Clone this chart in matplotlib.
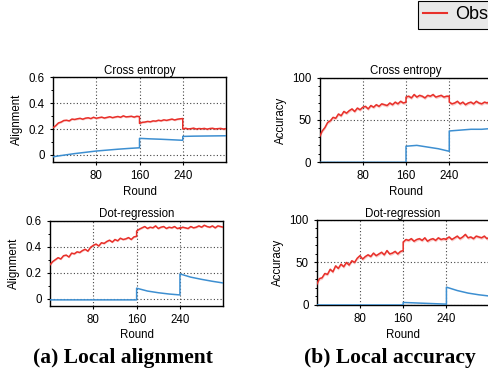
import numpy as np
import matplotlib
matplotlib.use("Agg")
import matplotlib.pyplot as plt
from matplotlib.lines import Line2D
from matplotlib.ticker import MultipleLocator, FuncFormatter

plt.rcParams['font.family'] = ['Liberation Sans', 'DejaVu Sans']

# x positions of the noisy (observed) curves, with the step at 160 and 240
seg_a = np.arange(0, 161, 5)
seg_b = np.arange(160, 241, 5)
seg_c = np.arange(240, 321, 5)
rounds = np.concatenate([seg_a, seg_b, seg_c])

# x positions of the smooth (expected) curves
blue_rounds = [0, 10, 20, 40, 60, 80, 100, 120, 140, 160,
               160, 180, 200, 220, 240,
               240, 260, 280, 300, 320]

# alignment, cross entropy
align_ce_red = [0.210, 0.226, 0.247, 0.254, 0.266, 0.268, 0.263, 0.277, 0.274, 0.279, 0.283,
                0.276, 0.284, 0.287, 0.281, 0.291, 0.283, 0.288, 0.292, 0.285, 0.290, 0.295,
                0.288, 0.293, 0.297, 0.291, 0.302, 0.294, 0.296, 0.299, 0.292, 0.299, 0.296,
                0.243, 0.252, 0.254, 0.259, 0.256, 0.263, 0.261, 0.268, 0.264, 0.271, 0.267,
                0.272, 0.277, 0.270, 0.276, 0.279, 0.281,
                0.200, 0.206, 0.201, 0.203, 0.207, 0.200, 0.204, 0.202, 0.205, 0.199, 0.204,
                0.206, 0.201, 0.203, 0.205, 0.200, 0.203]
align_ce_blue = [-0.015, -0.008, -0.002, 0.010, 0.020, 0.030, 0.037, 0.044, 0.050, 0.055,
                 0.128, 0.124, 0.121, 0.117, 0.113,
                 0.143, 0.145, 0.146, 0.147, 0.148]

# accuracy, cross entropy
acc_ce_red = [30, 37, 41, 47, 49, 53, 52, 57, 55, 60, 58, 61, 63, 60, 64, 62, 65, 66, 63, 67,
              65, 68, 66, 69, 68, 67, 70, 68, 71, 69, 72, 70, 71,
              77, 78, 76, 80, 77, 79, 78, 76, 79, 78, 80, 77, 78, 79, 77, 78, 78,
              71, 69, 70, 72, 69, 71, 68, 70, 71, 69, 72, 70, 69, 71, 70, 72, 70]
acc_ce_blue = [0, 0, 0, 0, 0, 0, 0, 0, 0, 0,
               19, 20, 18, 16, 13,
               37, 38, 39, 39, 40]

# alignment, dot-regression
align_dr_red = [0.26, 0.285, 0.30, 0.315, 0.305, 0.33, 0.335, 0.32, 0.35, 0.345, 0.36, 0.355,
                0.37, 0.38, 0.365, 0.395, 0.41, 0.42, 0.405, 0.43, 0.425, 0.44, 0.45, 0.435,
                0.455, 0.445, 0.465, 0.455, 0.46, 0.47, 0.455, 0.475, 0.48,
                0.52, 0.535, 0.545, 0.555, 0.54, 0.55, 0.545, 0.56, 0.54, 0.55, 0.555, 0.54,
                0.55, 0.545, 0.555, 0.54, 0.545,
                0.54, 0.55, 0.545, 0.54, 0.555, 0.545, 0.55, 0.56, 0.55, 0.565, 0.555, 0.55,
                0.56, 0.545, 0.56, 0.555, 0.55]
align_dr_blue = [-0.01, -0.01, -0.01, -0.01, -0.01, -0.01, -0.01, -0.01, -0.01, -0.01,
                 0.08, 0.058, 0.045, 0.035, 0.028,
                 0.19, 0.165, 0.148, 0.133, 0.12]

# accuracy, dot-regression
acc_dr_red = [24, 31, 32, 37, 36, 42, 39, 46, 43, 48, 45, 50, 47, 52, 50, 55, 58, 54, 57, 59,
              57, 61, 58, 60, 62, 59, 64, 60, 61, 63, 60, 63, 64,
              74, 77, 76, 78, 75, 77, 78, 76, 79, 75, 77, 78, 76, 79, 77, 78, 77,
              78, 80, 77, 79, 81, 78, 80, 83, 79, 80, 78, 81, 80, 79, 81, 78, 80]
acc_dr_blue = [0, 0, 0, 0, 0, 0, 0, 0, 0, 0,
               3, 2.5, 2, 1.5, 1,
               21, 17, 14, 12, 10.5]

RED = "#e8302a"
BLUE = "#3d8fd1"
FS = 8.3

fig = plt.figure(figsize=(4.89, 3.74), dpi=100)

panels = [
    # rect, title, ylabel, red, blue, kind
    ([0.1084, 0.5668, 0.3538, 0.2265], "Cross entropy", "Alignment", align_ce_red, align_ce_blue, "align"),
    ([0.6534, 0.5660, 0.3538, 0.2265], "Cross entropy", "Accuracy", acc_ce_red, acc_ce_blue, "acc"),
    ([0.1022, 0.1826, 0.3544, 0.2273], "Dot-regression", "Alignment", align_dr_red, align_dr_blue, "align"),
    ([0.6476, 0.1845, 0.3538, 0.2273], "Dot-regression", "Accuracy", acc_dr_red, acc_dr_blue, "acc"),
]

for rect, title, ylab, red, blue, kind in panels:
    ax = fig.add_axes(rect)
    red = np.array(red, dtype=float)
    band = 0.007 if kind == "align" else 1.8
    ax.fill_between(rounds, red - band, red + band, color=RED, alpha=0.25, lw=0)
    ax.plot(rounds, red, color=RED, lw=1.1, zorder=3)
    ax.plot(blue_rounds, blue, color=BLUE, lw=1.1, zorder=3)

    ax.set_xlim(0, 320)
    ax.set_xticks([80, 160, 240])
    if kind == "align":
        ax.set_ylim(-0.055, 0.6)
        ax.set_yticks([0, 0.2, 0.4, 0.6])
        ax.yaxis.set_minor_locator(MultipleLocator(0.1))
    else:
        ax.set_ylim(0, 100)
        ax.set_yticks([0, 50, 100])
        ax.yaxis.set_minor_locator(MultipleLocator(10))
    ax.yaxis.set_major_formatter(FuncFormatter(lambda v, p: "%g" % round(v, 3)))

    ax.grid(True, which="major", linestyle=(0, (1, 2)), color="#444444", lw=0.8)
    ax.tick_params(which="major", length=2.3, width=0.8, labelsize=FS, pad=3.5)
    ax.tick_params(which="minor", length=1.5, width=0.7)
    for sp in ax.spines.values():
        sp.set_linewidth(1.0)
    ax.set_title(title, fontsize=FS, pad=2.5)
    ax.set_xlabel("Round", fontsize=FS, labelpad=2.5)
    ax.set_ylabel(ylab, fontsize=FS, labelpad=4)

fig.text(123 / 489, 1 - 358 / 374, "(a) Local alignment", ha="center", va="center",
         family="Liberation Serif", weight="bold", fontsize=15.5)
fig.text(390 / 489, 1 - 358 / 374, "(b) Local accuracy", ha="center", va="center",
         family="Liberation Serif", weight="bold", fontsize=15.5)

handles = [Line2D([], [], color=RED, lw=1.5), Line2D([], [], color=BLUE, lw=1.5)]
leg = fig.legend(handles, ["Observed", "Expected"], loc="upper left",
                 bbox_to_anchor=(418 / 489, 1 - 1 / 374), ncol=2, fontsize=13,
                 frameon=True, fancybox=False, borderaxespad=0, borderpad=0.3,
                 handlelength=1.3, handletextpad=0.45)
leg.get_frame().set_facecolor("#e8e8e8")
leg.get_frame().set_edgecolor("black")
leg.get_frame().set_linewidth(0.8)
leg.get_frame().set_alpha(1)

fig.savefig("out.png", dpi=100)
